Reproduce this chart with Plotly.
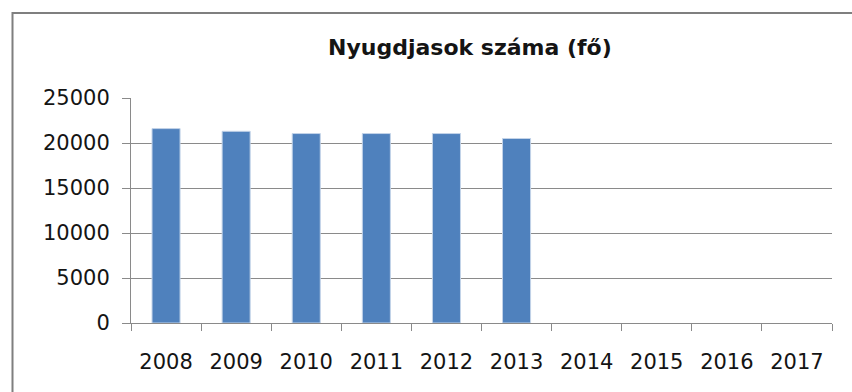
import plotly.graph_objects as go

# Yearly headcount of pensioners (persons); later years not yet reported
years = ["2008", "2009", "2010", "2011", "2012", "2013", "2014", "2015", "2016", "2017"]
pensioners = [21600, 21300, 21050, 21050, 21050, 20500, None, None, None, None]
y_ticks = [0, 5000, 10000, 15000, 20000, 25000]

W, H = 852, 392
L, R, T, B = 131, 20, 98, 69
pw, ph = W - L - R, H - T - B

grid = "#8a8a8a"
font = "DejaVu Sans"
text_color = "#141414"

fig = go.Figure(
    go.Bar(
        x=years,
        y=pensioners,
        marker=dict(color="#4F81BD", line=dict(color="#c3d3e8", width=1)),
    )
)

fig.update_layout(
    width=W,
    height=H,
    margin=dict(l=L, r=R, t=T, b=B),
    paper_bgcolor="white",
    plot_bgcolor="white",
    bargap=0.6,
    showlegend=False,
    font=dict(family=font, color=text_color, size=21),
)

fig.update_xaxes(
    type="category",
    categoryorder="array",
    categoryarray=years,
    tickson="boundaries",
    ticks="outside",
    ticklen=7,
    tickcolor=grid,
    showline=True,
    linecolor=grid,
    linewidth=1,
    showgrid=False,
    ticklabelstandoff=20,
    tickfont=dict(size=21),
)
fig.update_yaxes(
    range=[0, 25000],
    tickvals=y_ticks,
    ticktext=[str(v) for v in y_ticks],
    ticks="outside",
    ticklen=8,
    tickcolor=grid,
    showline=True,
    linecolor=grid,
    linewidth=1,
    showgrid=True,
    gridcolor=grid,
    gridwidth=1,
    zeroline=False,
    ticklabelstandoff=8,
    tickfont=dict(size=21),
)

# Chart-area frame (extends past the page on the right and bottom)
fig.add_shape(
    type="rect",
    xref="paper",
    yref="paper",
    x0=(12.5 - L) / pw,
    x1=(W + 10 - L) / pw,
    y0=-(B + 10) / ph,
    y1=(H - 13 - B) / ph,
    line=dict(color="#7f7f7f", width=2),
    fillcolor="rgba(0,0,0,0)",
)

fig.add_annotation(
    text="<b>Nyugdjasok száma (fő)</b>",
    xref="paper",
    yref="paper",
    x=(470 - L) / pw,
    y=(H - 48 - B) / ph,
    xanchor="center",
    yanchor="middle",
    showarrow=False,
    font=dict(family=font, size=22, color=text_color),
)

fig.write_html("out.html")
